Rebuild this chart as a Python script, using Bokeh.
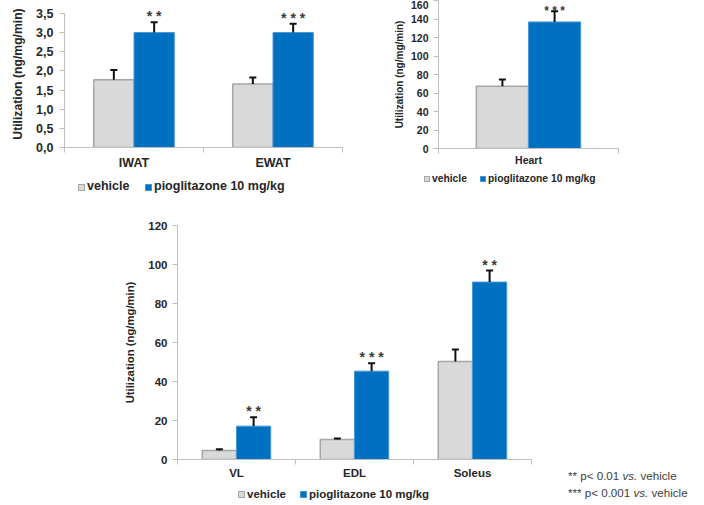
from bokeh.plotting import figure
from bokeh.models import (Range1d, FixedTicker, Whisker, TeeHead, ColumnDataSource,
                          Div, Spacer)
from bokeh.layouts import row, column
from bokeh.core.properties import value
from bokeh.embed import file_html
from bokeh.resources import INLINE

# ---------------- data ----------------
series = ["vehicle", "pioglitazone 10 mg/kg"]

fat_cats = ["IWAT", "EWAT"]
fat_vehicle = [1.77, 1.66]
fat_vehicle_err = [2.02, 1.83]
fat_pio = [3.00, 3.00]
fat_pio_err = [3.27, 3.23]
fat_stars = ["* *", "* * *"]
fat_ticks = [0.0, 0.5, 1.0, 1.5, 2.0, 2.5, 3.0, 3.5]
fat_tick_labels = ["0,0", "0,5", "1,0", "1,5", "2,0", "2,5", "3,0", "3,5"]

heart_cats = ["Heart"]
heart_vehicle = [67.4]
heart_vehicle_err = [74.7]
heart_pio = [137.0]
heart_pio_err = [148.6]
heart_stars = ["* * *"]
heart_ticks = [0, 20, 40, 60, 80, 100, 120, 140, 160]

muscle_cats = ["VL", "EDL", "Soleus"]
muscle_vehicle = [4.6, 10.3, 50.3]
muscle_vehicle_err = [5.3, 10.8, 56.4]
muscle_pio = [17.1, 45.3, 91.0]
muscle_pio_err = [21.7, 49.4, 96.9]
muscle_stars = ["* *", "* * *", "* *"]
muscle_ticks = [0, 20, 40, 60, 80, 100, 120]

y_title = "Utilization (ng/mg/min)"

FONT = "Liberation Sans"
VEH_FILL, VEH_LINE = "#d9d9d9", "#a6a6a6"
PIO_FILL, PIO_LINE = "#0070c0", "#4a97d8"
AXIS_COL = "#bfbfbf"
TXT = "#262626"


def legend_div(width, height, x_veh, x_pio, cy, fs, sq):
    """HTML key for the two series (swatch + bold label)."""
    def item(x, fill, line, label):
        return (f'<div style="position:absolute; left:{x}px; top:{cy - 9}px; height:18px;'
                f' display:flex; align-items:center; white-space:nowrap;">'
                f'<span style="display:inline-block; box-sizing:border-box; width:{sq}px;'
                f' height:{sq}px; background:{fill}; border:1px solid {line};'
                f' margin-right:2px"></span>'
                f'<span style="font-family:\'{FONT}\'; font-weight:bold; font-size:{fs};'
                f' color:{TXT}">{label}</span></div>')
    html = (f'<div style="position:relative; width:{width}px; height:{height}px;">'
            + item(x_veh, VEH_FILL, VEH_LINE, series[0])
            + item(x_pio, PIO_FILL, PIO_LINE, series[1]) + '</div>')
    return Div(width=width, height=height, text=html, margin=0)


def panel(cats, veh, veh_err, pio, pio_err, stars, ticks, tick_labels, y_end, y_max,
          width, height, bl, bt, bb, fs, title_fs, title_standoff, label_standoff,
          xlab_standoff, star_offset=-6, star_fs="14px"):
    n = len(cats)
    xc = [i + 0.5 for i in range(n)]
    xv = [x - 0.145 for x in xc]
    xp = [x + 0.145 for x in xc]
    src = ColumnDataSource(dict(xv=xv, xp=xp, veh=veh, veh_err=veh_err,
                                pio=pio, pio_err=pio_err, stars=stars))
    p = figure(width=width, height=height, x_range=Range1d(0, n), y_range=Range1d(0, y_end),
               output_backend="svg", toolbar_location=None,
               min_border_left=bl, min_border_right=4, min_border_top=bt, min_border_bottom=bb)
    p.outline_line_color = None
    p.grid.visible = False
    p.background_fill_color = None
    p.border_fill_color = None

    p.vbar(x="xv", top="veh", width=0.29, source=src, fill_color=VEH_FILL,
           line_color=VEH_LINE, line_width=1.5)
    p.vbar(x="xp", top="pio", width=0.29, source=src, fill_color=PIO_FILL,
           line_color=PIO_LINE, line_width=1)

    for base, lo, hi in (("xv", "veh", "veh_err"), ("xp", "pio", "pio_err")):
        w = Whisker(source=src, base=base, lower=lo, upper=hi, dimension="height",
                    line_color="#111111", line_width=2, lower_head=None,
                    upper_head=TeeHead(size=7, line_color="#111111", line_width=2),
                    level="overlay")
        p.add_layout(w)

    p.text(x="xp", y="pio_err", text="stars", source=src, text_align="center",
           text_baseline="alphabetic", y_offset=star_offset, text_font=value(FONT),
           text_font_size=star_fs, text_color="#3a3a3a", text_font_style="bold")

    # y axis
    ya = p.yaxis[0]
    ya.ticker = FixedTicker(ticks=ticks)
    if tick_labels is not None:
        ya.major_label_overrides = {t: l for t, l in zip(ticks, tick_labels)}
    ya.bounds = (0, y_max)
    ya.axis_line_color = AXIS_COL
    ya.major_tick_line_color = AXIS_COL
    ya.major_tick_out = 5
    ya.major_tick_in = 0
    ya.minor_tick_line_color = None
    ya.major_label_standoff = label_standoff
    ya.major_label_text_font = FONT
    ya.major_label_text_font_style = "bold"
    ya.major_label_text_font_size = fs
    ya.major_label_text_color = TXT
    ya.axis_label = y_title
    ya.axis_label_text_font = FONT
    ya.axis_label_text_font_style = "bold"
    ya.axis_label_text_font_size = title_fs
    ya.axis_label_text_color = TXT
    ya.axis_label_standoff = title_standoff

    # x axis (category labels at centres, tick marks at boundaries)
    xa = p.xaxis[0]
    xa.ticker = FixedTicker(ticks=xc, minor_ticks=list(range(n + 1)))
    xa.major_label_overrides = {x: c for x, c in zip(xc, cats)}
    xa.axis_line_color = AXIS_COL
    xa.major_tick_line_color = None
    xa.major_tick_out = 0
    xa.major_tick_in = 0
    xa.minor_tick_line_color = AXIS_COL
    xa.minor_tick_out = 5
    xa.minor_tick_in = 0
    xa.major_label_standoff = xlab_standoff
    xa.major_label_text_font = FONT
    xa.major_label_text_font_style = "bold"
    xa.major_label_text_font_size = fs
    xa.major_label_text_color = TXT
    return p


f1 = panel(fat_cats, fat_vehicle, fat_vehicle_err, fat_pio, fat_pio_err, fat_stars,
           fat_ticks, fat_tick_labels, 148 / 38.57, 3.5,
           width=346, height=172, bl=64, bt=0, bb=24, fs="12.5px", title_fs="12.2px",
           title_standoff=8, label_standoff=6, xlab_standoff=3)
l1 = legend_div(346, 28, 78, 145, 15, "12.5px", 7)

f2 = panel(heart_cats, heart_vehicle, heart_vehicle_err, heart_pio, heart_pio_err, heart_stars,
           heart_ticks, None, 148 / 0.9238, 160,
           width=234, height=170, bl=50, bt=0, bb=22, fs="10.5px", title_fs="10px",
           title_standoff=3, label_standoff=5, xlab_standoff=0,
           star_offset=0, star_fs="12px")
l2 = legend_div(234, 30, 36, 92, 9, "10.3px", 6)

f3 = panel(muscle_cats, muscle_vehicle, muscle_vehicle_err, muscle_pio, muscle_pio_err,
           muscle_stars, muscle_ticks, None, 120, 120,
           width=415, height=282, bl=57, bt=25, bb=23, fs="11.5px", title_fs="11.3px",
           title_standoff=9, label_standoff=5, xlab_standoff=2)
l3 = legend_div(415, 23, 118, 180, 12, "11.5px", 7)

note = Div(width=169, height=305, margin=0, text=(
    '<div style="padding:268px 0 0 33px; font-family:\'Liberation Sans\'; font-size:11.6px;'
    ' line-height:16.5px; color:#404040; white-space:nowrap">'
    '** p&lt; 0.01 <i>vs.</i> vehicle<br>*** p&lt; 0.001 <i>vs.</i> vehicle</div>'))

row1 = row(column(f1, l1), Spacer(width=42, height=200), column(f2, l2))
row2 = row(Spacer(width=120, height=305), column(f3, l3), note)
root = column(row1, row2)

open("out.html", "w").write(file_html(root, INLINE))
